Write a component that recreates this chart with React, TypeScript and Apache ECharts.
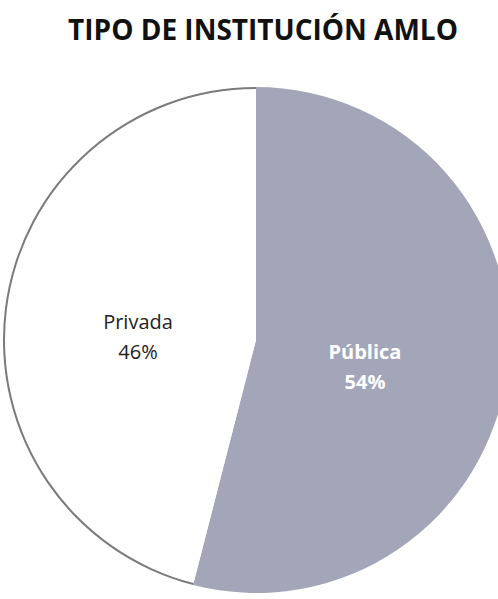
import React, { useEffect, useRef } from "react";
import * as echarts from "echarts";

const title = "TIPO DE INSTITUCIÓN AMLO";
const categories = ["Pública", "Privada"];
const values = [54, 46];
const colors = ["#a3a6b9", "#ffffff"];
const outlineColors = ["#a3a6b9", "#7a7a7a"];

export default function App() {
  const ref = useRef<HTMLDivElement>(null);
  useEffect(() => {
    if (!ref.current) return;
    const chart = echarts.init(ref.current, null, { renderer: "svg" });
    const center = [256, 340];
    chart.setOption({
      animation: false,
      backgroundColor: "#ffffff",
      title: {
        text: title,
        left: 258,
        textAlign: "center",
        top: 10,
        textStyle: {
          fontFamily: "Open Sans",
          fontWeight: "bold",
          fontSize: 28,
          color: "#111111",
        },
      },
      series: [
        {
          type: "pie",
          center,
          radius: 252,
          startAngle: 90,
          clockwise: true,
          silent: true,
          label: {
            show: true,
            position: "inner",
            formatter: (p: any) => `${p.name}\n${p.value}%`,
            fontFamily: "Open Sans",
            fontSize: 20,
            lineHeight: 30,
          },
          labelLine: { show: false },
          labelLayout: (p: any) =>
            p.dataIndex === 0 ? { dx: -19, dy: 10 } : { dx: 10, dy: 13 },
          data: categories.map((c, i) => ({
            name: c,
            value: values[i],
            itemStyle: { color: colors[i], borderWidth: 0 },
            label:
              i === 0
                ? { color: "#ffffff", fontWeight: "bold" }
                : { color: "#222222", fontWeight: "normal" },
          })),
        },
        {
          type: "pie",
          center,
          radius: [251, 253],
          startAngle: 90,
          clockwise: true,
          silent: true,
          label: { show: false },
          labelLine: { show: false },
          data: categories.map((c, i) => ({
            name: c + " outline",
            value: values[i],
            itemStyle: { color: outlineColors[i], borderWidth: 0 },
          })),
        },
      ],
    });
    return () => chart.dispose();
  }, []);
  return (
    <div
      ref={ref}
      style={{ position: "fixed", left: 0, top: 0, width: 498, height: 599 }}
    />
  );
}
